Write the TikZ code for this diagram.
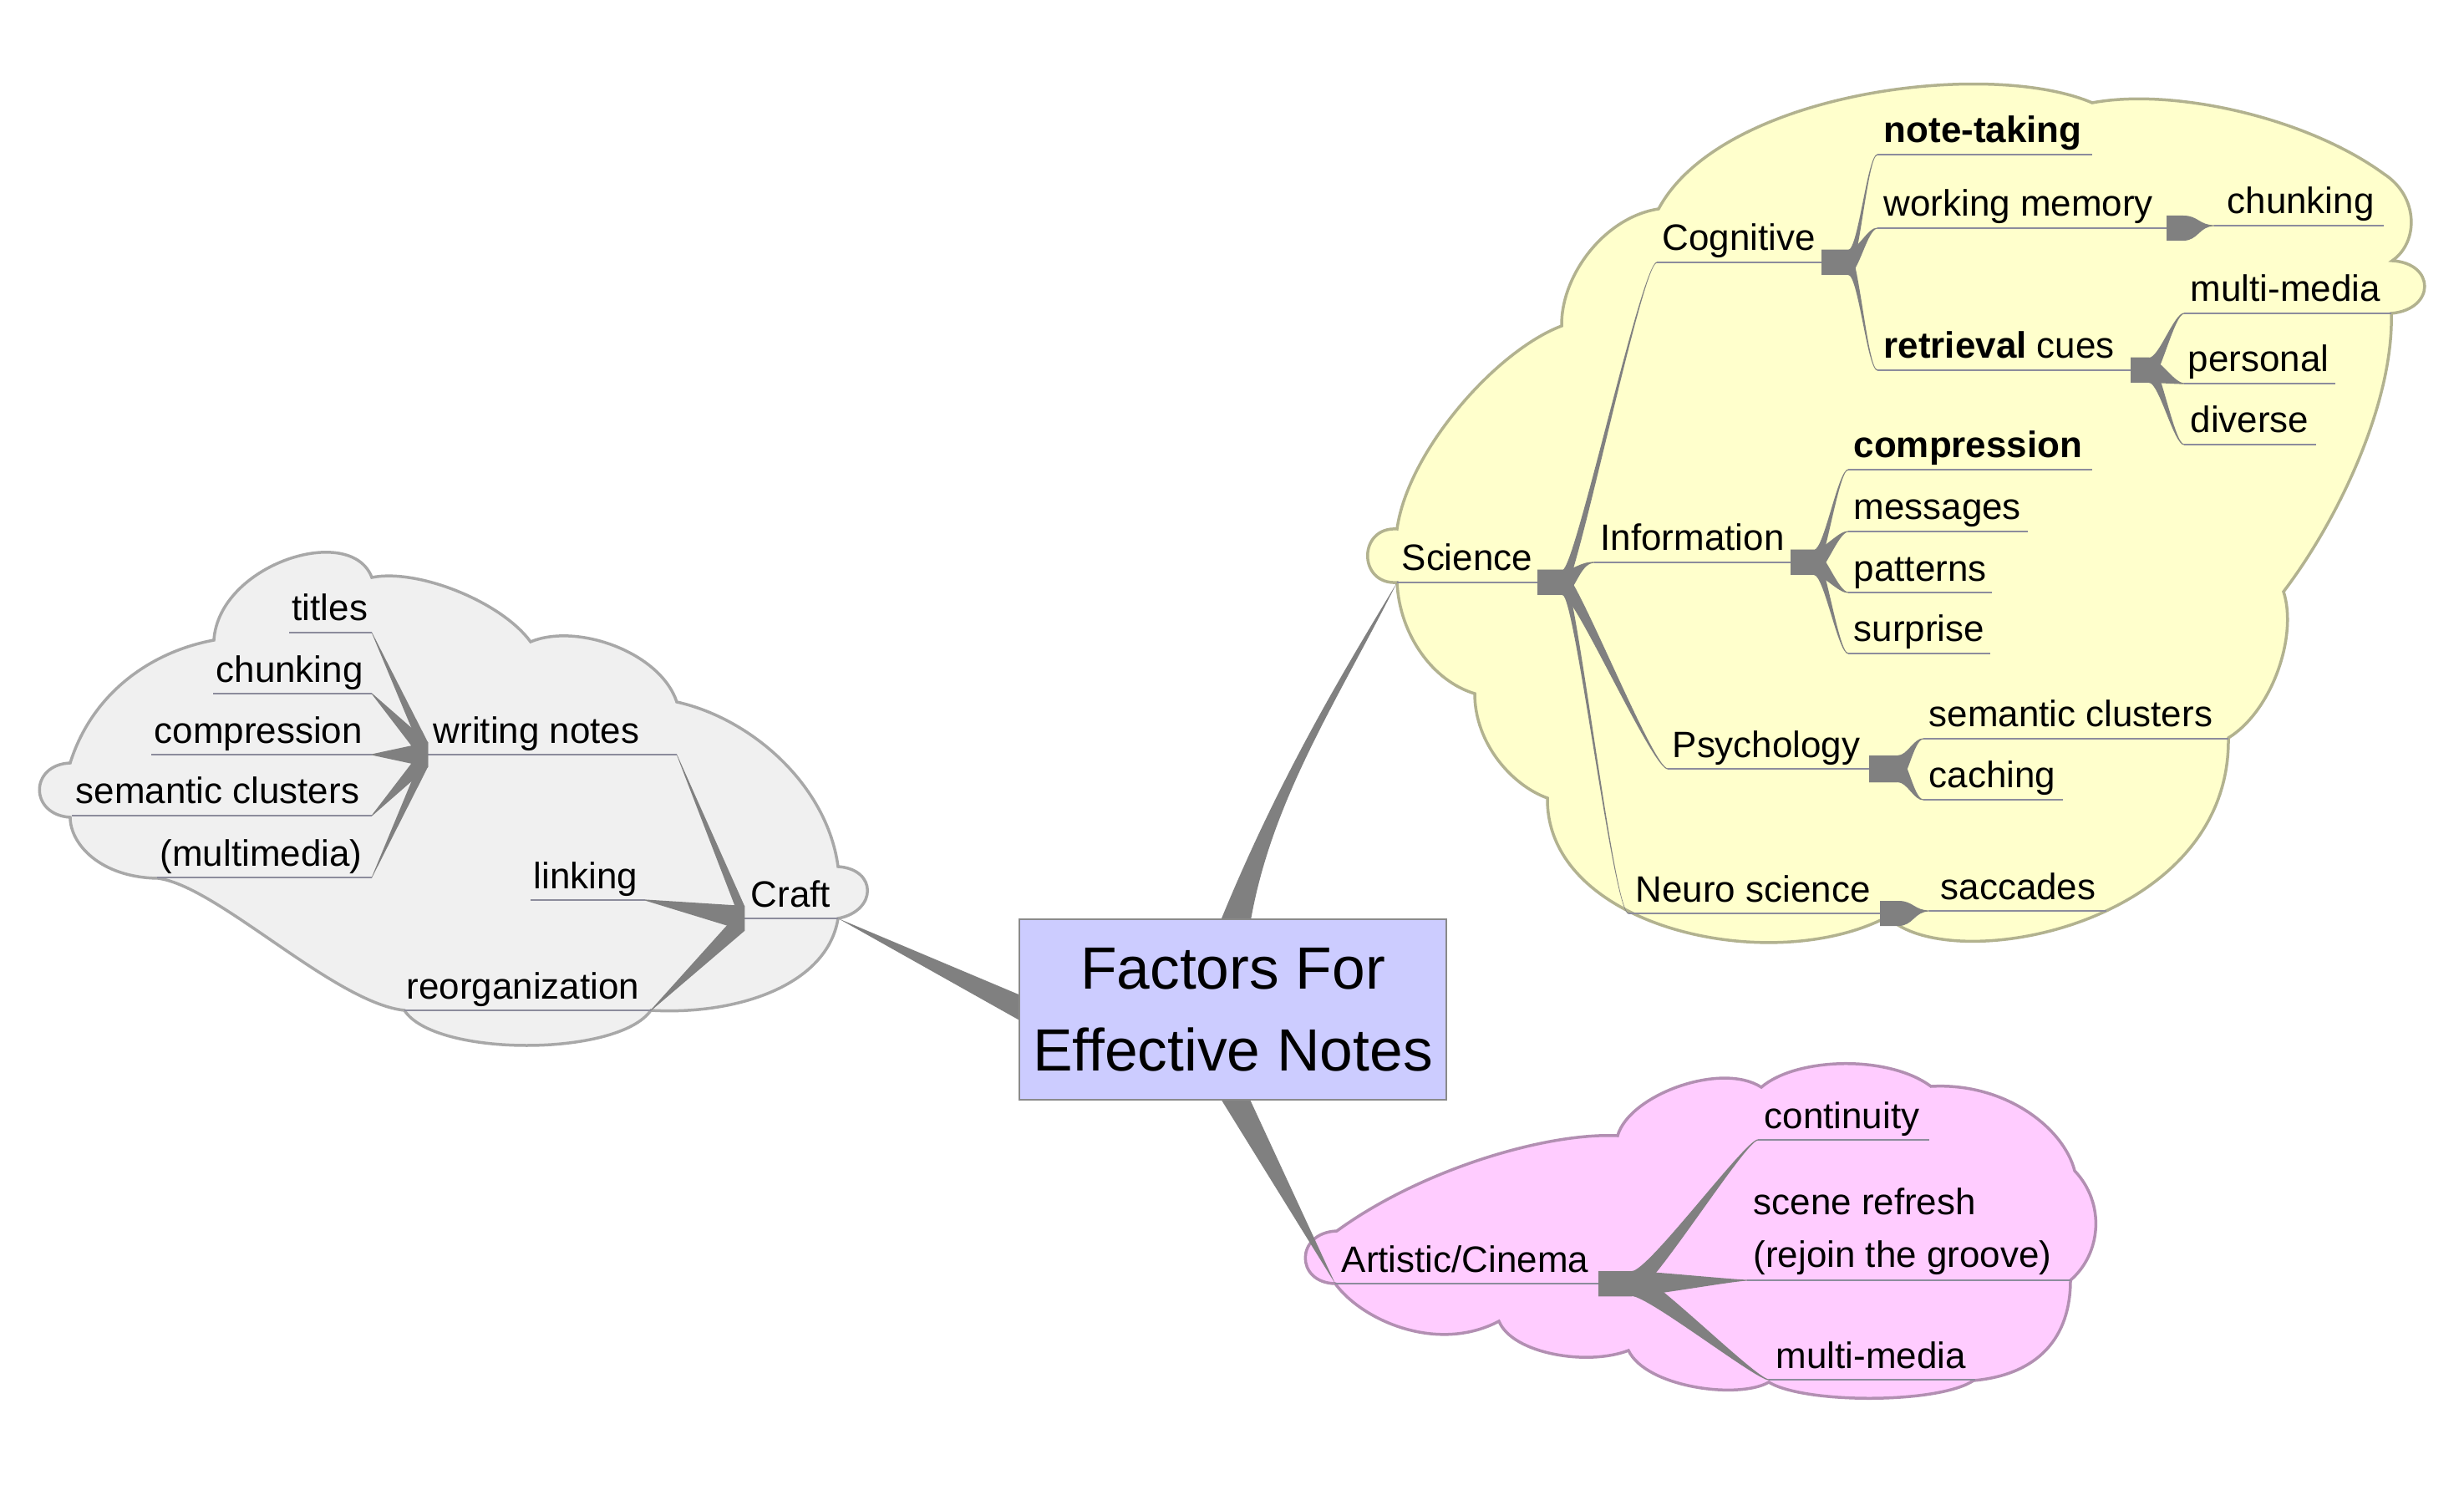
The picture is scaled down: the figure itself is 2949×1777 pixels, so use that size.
\documentclass[tikz,border=0pt]{standalone}
\usepackage{fontspec}
\setmainfont{Liberation Sans}
\usetikzlibrary{calc}
\definecolor{edgec}{HTML}{808080}
\definecolor{ulc}{HTML}{8C8C9C}
\definecolor{scifill}{HTML}{FFFFCC}
\definecolor{sciline}{HTML}{B2B28F}
\definecolor{craftfill}{HTML}{F0F0F0}
\definecolor{craftline}{HTML}{A8A8A8}
\definecolor{cinfill}{HTML}{FFCCFF}
\definecolor{cinline}{HTML}{B28FB2}
\definecolor{rootfill}{HTML}{CCCCFF}
\definecolor{rootline}{HTML}{8A8A8A}
% name, x1, x2, y, text x-offset, text
\newcommand\mmnode[6]{%
  \coordinate (#1-w) at (#2,#4);
  \coordinate (#1-e) at (#3,#4);
  \draw[uline] (#1-w) -- (#1-e);
  \node[lbl] (#1) at ($(#1-w)+(#5,-14)$) {#6};
}
% from, to, half width, straight run L (signed), ctrl offset after run (signed), ctrl offset at end (signed)
\newcommand\mmedge[6]{%
  \fill[edgefill] ($(#1)+(0,-#3)$) -- ($(#1)+(#4,-#3)$)
    .. controls ($(#1)+(#4,-#3)+(#5,0)$) and ($(#2)+(#6,-0.6)$) .. ($(#2)+(0,-0.6)$)
    -- ($(#2)+(0,0.6)$) .. controls ($(#2)+(#6,0.6)$) and ($(#1)+(#4,#3)+(#5,0)$) .. ($(#1)+(#4,#3)$)
    -- ($(#1)+(0,#3)$) -- cycle;
}
\begin{document}
\begin{tikzpicture}[x=0.1mm,y=-0.1mm,
  uline/.style={draw=ulc, line width=0.13mm},
  lbl/.style={anchor=base west, inner sep=0pt, font=\fontsize{12.5}{15}\selectfont},
  lbltwo/.style={anchor=base west, inner sep=0pt, font=\fontsize{12.5}{17.86}\selectfont},
  edgefill/.style={fill=edgec},
  scicloud/.style={fill=scifill, draw=sciline, line width=0.35mm},
  craftcloud/.style={fill=craftfill, draw=craftline, line width=0.35mm},
  cincloud/.style={fill=cinfill, draw=cinline, line width=0.35mm},
  rootbox/.style={draw=rootline, fill=rootfill, line width=0.15mm, minimum width=51.1mm,
    minimum height=21.6mm, inner sep=0pt, align=center, font=\fontsize{20.3}{27.8}\selectfont}]
\useasboundingbox (0,0) rectangle (2949,1777);
\fill[white] (0,0) rectangle (2949,1777);

% ---------- clouds ----------
\path[scicloud] (1672,633)
 .. controls (1625,630) and (1625,700) .. (1672,697)
 .. controls (1675,760) and (1715,815) .. (1765,830)
 .. controls (1765,890) and (1810,940) .. (1852,955)
 .. controls (1850,1110) and (2120,1170) .. (2259,1097)
 .. controls (2330,1170) and (2670,1110) .. (2667,883)
 .. controls (2720,850) and (2750,760) .. (2733,708)
 .. controls (2800,620) and (2865,480) .. (2862,375)
 .. controls (2915,370) and (2915,315) .. (2863,312)
 .. controls (2895,290) and (2895,235) .. (2853,208)
 .. controls (2760,140) and (2600,105) .. (2504,123)
 .. controls (2380,70) and (2060,110) .. (1985,250)
 .. controls (1920,260) and (1868,330) .. (1869,390)
 .. controls (1790,420) and (1685,540) .. (1672,633) -- cycle;

\path[craftcloud] (256,766)
 .. controls (262,675) and (420,625) .. (445,691)
 .. controls (500,680) and (600,720) .. (635,768)
 .. controls (690,745) and (790,780) .. (810,840)
 .. controls (900,860) and (990,940) .. (1003,1037)
 .. controls (1050,1040) and (1050,1090) .. (1003,1099)
 .. controls (990,1180) and (880,1215) .. (779,1209)
 .. controls (740,1265) and (520,1265) .. (484,1209)
 .. controls (400,1200) and (260,1060) .. (189,1051)
 .. controls (120,1050) and (84,1010) .. (84,978)
 .. controls (35,975) and (35,915) .. (84,913)
 .. controls (110,830) and (180,780) .. (256,766) -- cycle;

\path[cincloud] (1600,1473)
 .. controls (1700,1400) and (1850,1355) .. (1936,1359)
 .. controls (1950,1310) and (2060,1270) .. (2108,1301)
 .. controls (2150,1265) and (2260,1262) .. (2311,1300)
 .. controls (2400,1295) and (2470,1350) .. (2483,1401)
 .. controls (2520,1440) and (2515,1500) .. (2478,1532)
 .. controls (2478,1600) and (2440,1645) .. (2362,1652)
 .. controls (2320,1680) and (2160,1680) .. (2117,1654)
 .. controls (2080,1675) and (1970,1660) .. (1949,1616)
 .. controls (1900,1635) and (1810,1620) .. (1794,1581)
 .. controls (1720,1620) and (1630,1580) .. (1598,1536)
 .. controls (1550,1535) and (1550,1475) .. (1600,1473) -- cycle;

% ---------- nodes (underline + text) ----------
% Science branch
\mmnode{sci}{1672}{1840}{697}{5}{Science}
\mmnode{cog}{1983}{2180}{314}{6}{Cognitive}
\mmnode{inf}{1908}{2143}{673}{7}{Information}
\mmnode{psy}{1996}{2237}{920}{5}{Psychology}
\mmnode{neu}{1949}{2250}{1093}{8}{Neuro science}
\mmnode{note}{2247}{2504}{185}{7}{\textbf{note-taking}}
\mmnode{wm}{2247}{2593}{273}{7}{working memory}
\mmnode{ret}{2247}{2550}{443}{7}{\textbf{retrieval} cues}
\mmnode{chk}{2650}{2853}{270}{15}{chunking}
\mmnode{mm}{2614}{2862}{375}{7}{multi-media}
\mmnode{per}{2614}{2795}{459}{4}{personal}
\mmnode{div}{2614}{2772}{532}{7}{diverse}
\mmnode{comp}{2212}{2504}{562}{6}{\textbf{compression}}
\mmnode{msg}{2212}{2427}{636}{6}{messages}
\mmnode{pat}{2212}{2384}{709}{6}{patterns}
\mmnode{sur}{2212}{2382}{782}{6}{surprise}
\mmnode{sem}{2302}{2667}{884}{6}{semantic clusters}
\mmnode{cac}{2302}{2469}{957}{6}{caching}
\mmnode{sac}{2309}{2521}{1090}{13}{saccades}
% Craft branch
\mmnode{craft}{891}{1003}{1099}{7}{Craft}
\mmnode{wn}{512}{810}{903}{6}{writing notes}
\mmnode{link}{635}{772}{1077}{3}{linking}
\mmnode{reorg}{484}{779}{1209}{2}{reorganization}
\mmnode{tit}{346}{445}{757}{3}{titles}
\mmnode{chkb}{255}{445}{830}{3}{chunking}
\mmnode{compb}{181}{445}{903}{3}{compression}
\mmnode{semb}{86}{445}{976}{4}{semantic clusters}
\mmnode{mmd}{188}{445}{1050}{3}{(multimedia)}
% Artistic branch
\mmnode{art}{1598}{1913}{1536}{7}{Artistic/Cinema}
\mmnode{con}{2104}{2309}{1364}{7}{continuity}
\coordinate (scn-w) at (2091,1532);
\coordinate (scn-e) at (2478,1532);
\draw[uline] (scn-w) -- (scn-e);
\node[lbltwo] (scn) at ($(scn-w)+(7,-16)$) {\begin{tabular}[b]{@{}l@{}}scene refresh\\(rejoin the groove)\end{tabular}};
\mmnode{mmc}{2117}{2364}{1651}{8}{multi-media}

% ---------- root edges ----------
\coordinate (rootN) at (1475.5,1100);
\coordinate (rootW) at (1220,1208);
\coordinate (rootS) at (1475.5,1316);
\fill[edgefill] ($(rootN)+(-18,10)$) .. controls ($(rootN)+(55,-170)$) and ($(sci-w)+(-62,103)$) .. (sci-w)
  .. controls ($(sci-w)+(-72,143)$) and ($(rootN)+(44,-140)$) .. ($(rootN)+(20,10)$) -- cycle;
\fill[edgefill] ($(rootW)+(11,-13)$) -- (craft-e) -- ($(rootW)+(11,19)$) -- cycle;
\fill[edgefill] ($(rootS)+(-20,-10)$) -- (art-w) -- ($(rootS)+(16,-10)$) -- cycle;

\node[rootbox] (root) at (1475.5,1208) {Factors For\\Effective Notes};

% ---------- other edges ----------
\mmedge{sci-e}{cog-w}{15}{30}{15}{-18}
\mmedge{sci-e}{inf-w}{15}{30}{15}{-18}
\mmedge{sci-e}{psy-w}{15}{30}{15}{-18}
\mmedge{sci-e}{neu-w}{15}{30}{15}{-18}
\mmedge{cog-e}{note-w}{15}{32}{12}{-12}
\mmedge{cog-e}{wm-w}{15}{32}{12}{-12}
\mmedge{cog-e}{ret-w}{15}{32}{12}{-12}
\mmedge{wm-e}{chk-w}{15}{20}{18}{-18}
\mmedge{ret-e}{mm-w}{15}{22}{12}{-12}
\mmedge{ret-e}{per-w}{15}{22}{12}{-12}
\mmedge{ret-e}{div-w}{15}{22}{12}{-12}
\mmedge{inf-e}{comp-w}{15}{28}{12}{-12}
\mmedge{inf-e}{msg-w}{15}{28}{12}{-12}
\mmedge{inf-e}{pat-w}{15}{28}{12}{-12}
\mmedge{inf-e}{sur-w}{15}{28}{12}{-12}
\mmedge{psy-e}{sem-w}{16}{34}{12}{-12}
\mmedge{psy-e}{cac-w}{16}{34}{12}{-12}
\mmedge{neu-e}{sac-w}{15}{22}{18}{-18}
\mmedge{art-e}{con-w}{15}{40}{20}{-15}
\mmedge{art-e}{scn-w}{15}{40}{20}{-15}
\mmedge{art-e}{mmc-w}{15}{40}{20}{-15}
\mmedge{craft-w}{wn-e}{15}{0}{0}{0}
\mmedge{craft-w}{link-e}{15}{0}{0}{0}
\mmedge{craft-w}{reorg-e}{15}{0}{0}{0}
\mmedge{wn-w}{tit-e}{15}{0}{0}{0}
\mmedge{wn-w}{chkb-e}{15}{0}{0}{0}
\mmedge{wn-w}{compb-e}{15}{0}{0}{0}
\mmedge{wn-w}{semb-e}{15}{0}{0}{0}
\mmedge{wn-w}{mmd-e}{15}{0}{0}{0}
\end{tikzpicture}
\end{document}
